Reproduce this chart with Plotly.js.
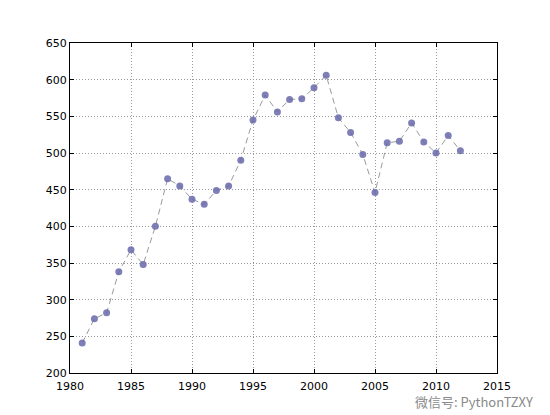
<!DOCTYPE html>
<html>
<head>
<meta charset="utf-8">
<script src="https://cdn.plot.ly/plotly-3.0.1.min.js"></script>
<style>html,body{margin:0;padding:0;background:#fff;}#chart{width:550px;height:415px;}</style>
</head>
<body>
<div id="chart"></div>
<script>
const years = [1981,1982,1983,1984,1985,1986,1987,1988,1989,1990,1991,1992,1993,1994,1995,1996,1997,1998,1999,2000,2001,2002,2003,2004,2005,2006,2007,2008,2009,2010,2011,2012];
const values = [241,274,282,338,368,348,400,465,455,437,430,449,455,490,545,579,556,573,574,589,606,548,528,498,446,514,516,541,515,500,524,503];
const xTicks = [1980,1985,1990,1995,2000,2005,2010,2015];
const yTicks = [200,250,300,350,400,450,500,550,600,650];

const trace = {
  x: years, y: values, type: 'scatter', mode: 'lines+markers',
  line: {color: '#9a9a9a', width: 1, dash: '6px,4px'},
  marker: {color: '#6868ac', size: 7, opacity: 0.85},
  hoverinfo: 'skip'
};

const axisCommon = {
  showline: true, linecolor: '#000', linewidth: 1, mirror: 'ticks',
  ticks: 'inside', ticklen: 4, tickcolor: '#000',
  showgrid: true, gridcolor: '#9a9a9a', griddash: '1px,2px', gridwidth: 1,
  zeroline: false, tickfont: {family: 'DejaVu Sans', size: 11, color: '#000'}
};

const layout = {
  width: 550, height: 415,
  margin: {l: 70, r: 53, t: 43, b: 42},
  paper_bgcolor: '#fff', plot_bgcolor: '#fff',
  showlegend: false,
  xaxis: Object.assign({}, axisCommon, {range: [1980, 2015], tickvals: xTicks, ticktext: xTicks.map(String), ticklabelstandoff: 3}),
  yaxis: Object.assign({}, axisCommon, {range: [200, 650], tickvals: yTicks, ticktext: yTicks.map(String)}),
  annotations: [{
    text: '微信号: PythonTZXY', xref: 'paper', yref: 'paper', x: 1.09, y: -0.052,
    xanchor: 'right', yanchor: 'top', showarrow: false,
    font: {family: 'Noto Sans CJK SC', size: 13, color: '#8a8a8a'}
  }]
};

Plotly.newPlot('chart', [trace], layout, {staticPlot: true, displayModeBar: false});
</script>
</body>
</html>
